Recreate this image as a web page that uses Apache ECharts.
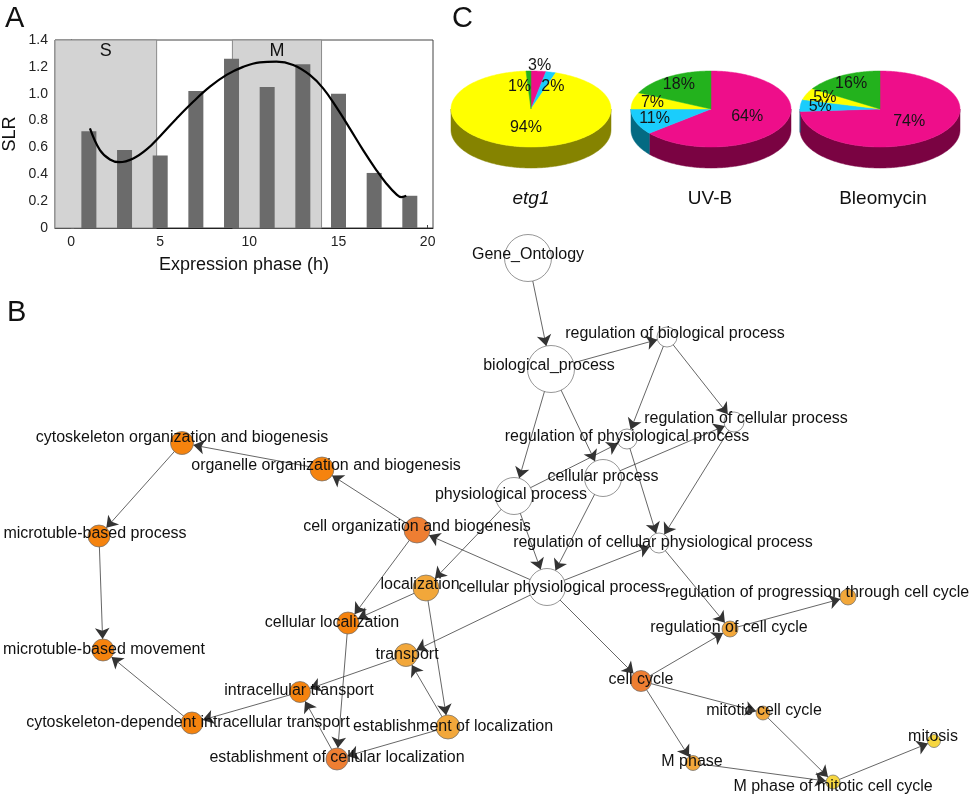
<!DOCTYPE html>
<html><head><meta charset="utf-8">
<script src="https://cdn.jsdelivr.net/npm/echarts@6/dist/echarts.min.js"></script>
<style>html,body{margin:0;padding:0;background:#fff}#c{width:974px;height:800px}</style>
</head><body><div id="c"></div>
<script>
// ---------- Panel A data ----------
const phaseHours = [1, 3, 5, 7, 9, 11, 13, 15, 17, 19];
const slrValues  = [0.72, 0.58, 0.54, 1.02, 1.26, 1.05, 1.22, 1.00, 0.41, 0.24];
const fitHours = [1.06, 1.62, 2.18, 2.71, 3.49, 4.24, 4.99, 5.92, 6.85, 7.79, 8.72, 9.65, 10.59, 11.52, 12.46, 13.39, 14.14, 14.88, 15.63, 16.38, 17.13, 17.69, 18.25, 18.53, 18.8];
const fitSLR   = [0.742, 0.58, 0.51, 0.49, 0.518, 0.585, 0.684, 0.816, 0.94, 1.052, 1.14, 1.20, 1.234, 1.239, 1.214, 1.14, 1.04, 0.90, 0.742, 0.58, 0.43, 0.33, 0.25, 0.23, 0.24];
const bandNames = ['S', 'M'];
const bandStart = [-0.9, 9.05];
const bandEnd   = [4.8, 14.05];

// ---------- Panel C data ----------
const pieTitles = ['etg1', 'UV-B', 'Bleomycin'];
const sliceClasses = ['class 1', 'class 2', 'class 3', 'class 4'];
const etg1Pct = [3, 2, 94, 1];
const uvbPct  = [64, 11, 7, 18];
const bleoPct = [74, 5, 5, 16];

// ---------- Panel B data ----------
const goTerms = [
  'Gene_Ontology', 'biological_process', 'regulation of biological process', 'regulation of cellular process',
  'regulation of physiological process', 'cellular process', 'physiological process',
  'regulation of cellular physiological process', 'cellular physiological process',
  'cytoskeleton organization and biogenesis', 'organelle organization and biogenesis',
  'cell organization and biogenesis', 'microtuble-based process', 'localization', 'cellular localization',
  'microtuble-based movement', 'transport', 'intracellular transport',
  'cytoskeleton-dependent intracellular transport', 'establishment of localization',
  'establishment of cellular localization', 'regulation of progression through cell cycle',
  'regulation of cell cycle', 'cell cycle', 'mitotic cell cycle', 'mitosis', 'M phase',
  'M phase of mitotic cell cycle'
];
const termLevel = [0,0,0,0,0,0,0,0,0, 1,1,2,1,3,1,1,3,1,1,3,2, 3,3,2,3,4,3,4];
const termLinks = [
  [0,1],[1,2],[1,6],[1,5],[2,4],[2,3],[6,4],[5,3],[4,7],[3,7],[6,8],[5,8],[8,7],
  [6,13],[8,11],[8,16],[8,23],[7,22],[22,21],[23,22],[23,24],[23,26],[24,27],[26,27],[27,25],
  [11,10],[10,9],[9,12],[12,15],[18,15],[17,18],[16,17],[11,14],[13,14],[13,19],[14,20],
  [19,16],[19,20],[20,17]
];
// layout of the network as drawn in the figure (pixel coordinates)
const termX = [528,551,667,734,627,603,514,659,547, 182,322,417,99,426,348,103,406,300,192,448,337, 848,730,641,763,934,693,833];
const termY = [258,369,337,422,439,478,496,543,587, 443,469,530,536,588,623,650,655,692,723,727,759, 597,629,681,713,741,763,782];

// ---------- styling ----------
const nodeSize = [47,47,20,20,20,37,37,20,37, 23,24,26,22,26,22,22,23,21,22,24,22, 16,16,21,14,13,15,14];
const levelColors = ['#FFFFFF', '#F5830E', '#EE7E32', '#F2A73A', '#F6D640'];
const labelOffsets = [[0,-3],[-2,-3],[8,-3],[12,-3],[0,-2],[0,-1],[-3,-1],[4,0],[15,1],[0,-5],[4,-3],[0,-3],
  [-4,-2],[-6,-3],[-16,0],[1,0],[1,0],[-1,-1],[-4,0],[5,0],[0,-1],[-31,-4],[-1,-1],[0,-1],[1,-2],[-1,-4],[-1,-1],[0,5]];
const FONT = 'Liberation Sans, Arial, Helvetica, sans-serif';

const pieSets = [etg1Pct, uvbPct, bleoPct];
const pieCX = [531, 711, 880], pieCY = 109, RX = 80, RY = 38, DEPTH = 21;
const topColors  = ['#EE0E8A', '#1ACDFC', '#FFFF00', '#23B21D'];
const sideColors = ['#7A0342', '#046A82', '#858300', '#137011'];
function ell(cx, cy, a, k) { const r = a * Math.PI / 180; return [cx + RX * k * Math.sin(r), cy - RY * k * Math.cos(r)]; }

const pieData = [];
pieSets.forEach((vals, p) => vals.forEach((v, s) => pieData.push({ name: pieTitles[p] + ' ' + sliceClasses[s], value: [p, s, v] })));

function renderPie(params, api) {
  const p = api.value(0), s = api.value(1), v = api.value(2);
  const vals = pieSets[p];
  const tot = vals.reduce((a, b) => a + b, 0);
  let before = 0; for (let i = 0; i < s; i++) before += vals[i];
  const a0 = before / tot * 360, a1 = (before + v) / tot * 360;
  const cx = pieCX[p];
  const children = [];
  const f0 = Math.max(a0, 90), f1 = Math.min(a1, 270);
  if (f1 > f0) {
    const pts = [];
    for (let a = f0; a < f1; a += 1) pts.push(ell(cx, pieCY, a, 1));
    pts.push(ell(cx, pieCY, f1, 1));
    const bottom = pts.map(q => [q[0], q[1] + DEPTH]).reverse();
    children.push({ type: 'polygon', shape: { points: pts.concat(bottom) }, style: { fill: sideColors[s], stroke: sideColors[s], lineWidth: 0.5 } });
  }
  const tp = [[cx, pieCY]];
  for (let a = a0; a < a1; a += 1) tp.push(ell(cx, pieCY, a, 1));
  tp.push(ell(cx, pieCY, a1, 1));
  children.push({ type: 'polygon', shape: { points: tp }, style: { fill: topColors[s], stroke: topColors[s], lineWidth: 0.5 }, z2: 2 });
  const mid = (a0 + a1) / 2;
  let frac = v >= 50 ? 0.5 : 0.75, nudge = 0;
  if (v < 4) {
    if (v >= 3) frac = 1.15;
    else { frac = 0.6; nudge = Math.sin(mid * Math.PI / 180) > 0 ? 10 : -10; }
  }
  const lp = ell(cx, pieCY, mid, frac);
  children.push({ type: 'text', z2: 10, style: { text: v + '%', x: lp[0] + nudge, y: lp[1], align: 'center', verticalAlign: 'middle', fontSize: 16, fontFamily: FONT, fill: '#151515' } });
  return { type: 'group', children };
}

const chart = echarts.init(document.getElementById('c'), null, { renderer: 'canvas' });
const option = {
  animation: false,
  backgroundColor: '#fff',
  grid: [
    { left: 55, top: 40, width: 378, height: 188, show: true, borderColor: '#444', borderWidth: 1, backgroundColor: '#fff', containLabel: false },
    { left: 0, top: 0, width: 974, height: 800, show: false }
  ],
  xAxis: [
    { gridIndex: 0, type: 'value', min: -0.9, max: 20.3, splitNumber: 5,
      name: 'Expression phase (h)', nameLocation: 'middle', nameGap: 28,
      nameTextStyle: { fontSize: 18, fontFamily: FONT, color: '#111' },
      axisLine: { lineStyle: { color: '#222' } },
      axisTick: { inside: true, length: 3, lineStyle: { color: '#444' } },
      splitLine: { show: false },
      axisLabel: { fontSize: 14, fontFamily: FONT, color: '#222', margin: 7, showMinLabel: false, showMaxLabel: false } },
    { gridIndex: 1, type: 'value', min: 0, max: 974, show: false }
  ],
  yAxis: [
    { gridIndex: 0, type: 'value', min: 0, max: 1.4, interval: 0.2,
      name: 'SLR', nameLocation: 'middle', nameGap: 36,
      nameTextStyle: { fontSize: 18, fontFamily: FONT, color: '#111' },
      axisLine: { show: true, lineStyle: { color: '#222' } },
      axisTick: { show: true, inside: true, length: 3, lineStyle: { color: '#444' } },
      splitLine: { show: false },
      axisLabel: { fontSize: 14, fontFamily: FONT, color: '#222', margin: 7,
        formatter: v => v === 0 ? '0' : v.toFixed(1) } },
    { gridIndex: 1, type: 'value', min: 0, max: 800, inverse: true, show: false }
  ],
  graphic: [
    { type: 'text', left: 5, top: 4, style: { text: 'A', fontSize: 29, fontFamily: FONT, fill: '#111' } },
    { type: 'text', left: 7, top: 298, style: { text: 'B', fontSize: 29, fontFamily: FONT, fill: '#111' } },
    { type: 'text', left: 452, top: 4, style: { text: 'C', fontSize: 29, fontFamily: FONT, fill: '#111' } },
    ...pieTitles.map((t, i) => ({ type: 'text', x: [531, 710, 883][i], y: 199,
      style: { text: t, align: 'center', verticalAlign: 'middle', fontSize: 19, fontFamily: FONT, fill: '#111', fontStyle: i === 0 ? 'italic' : 'normal' } }))
  ],
  series: [
    { type: 'bar', xAxisIndex: 0, yAxisIndex: 0, barWidth: 15, z: 2,
      itemStyle: { color: '#6B6B6B' },
      data: phaseHours.map((h, i) => [h, slrValues[i]]),
      markArea: {
        silent: true,
        itemStyle: { color: '#D3D3D3', borderColor: '#8A8A8A', borderWidth: 1 },
        label: { show: true, position: 'insideTop', distance: 3, fontSize: 18, fontFamily: FONT, color: '#111' },
        data: bandNames.map((n, i) => [{ name: n, xAxis: bandStart[i] }, { xAxis: bandEnd[i] }])
      } },
    { type: 'line', xAxisIndex: 0, yAxisIndex: 0, smooth: 0.4, showSymbol: false, z: 5,
      lineStyle: { color: '#000', width: 2.2 },
      data: fitHours.map((h, i) => [h, fitSLR[i]]) },
    { type: 'custom', coordinateSystem: 'none', renderItem: renderPie, data: pieData, z: 3 },
    { type: 'graph', coordinateSystem: 'cartesian2d', xAxisIndex: 1, yAxisIndex: 1, layout: 'none', z: 4,
      edgeSymbol: ['none', 'arrow'], edgeSymbolSize: [0, 11],
      lineStyle: { color: '#333', width: 0.75, opacity: 1, curveness: 0 },
      itemStyle: { borderColor: '#6A6A6A', borderWidth: 0.7 },
      label: { show: true, position: 'inside', fontSize: 16, fontFamily: FONT, color: '#111' },
      emphasis: { disabled: true },
      data: goTerms.map((t, i) => ({
        name: t, value: [termX[i], termY[i]], symbolSize: nodeSize[i],
        itemStyle: { color: levelColors[termLevel[i]] },
        label: { offset: labelOffsets[i] }
      })),
      links: termLinks.map(l => ({ source: goTerms[l[0]], target: goTerms[l[1]] }))
    }
  ]
};
chart.setOption(option);
</script></body></html>
